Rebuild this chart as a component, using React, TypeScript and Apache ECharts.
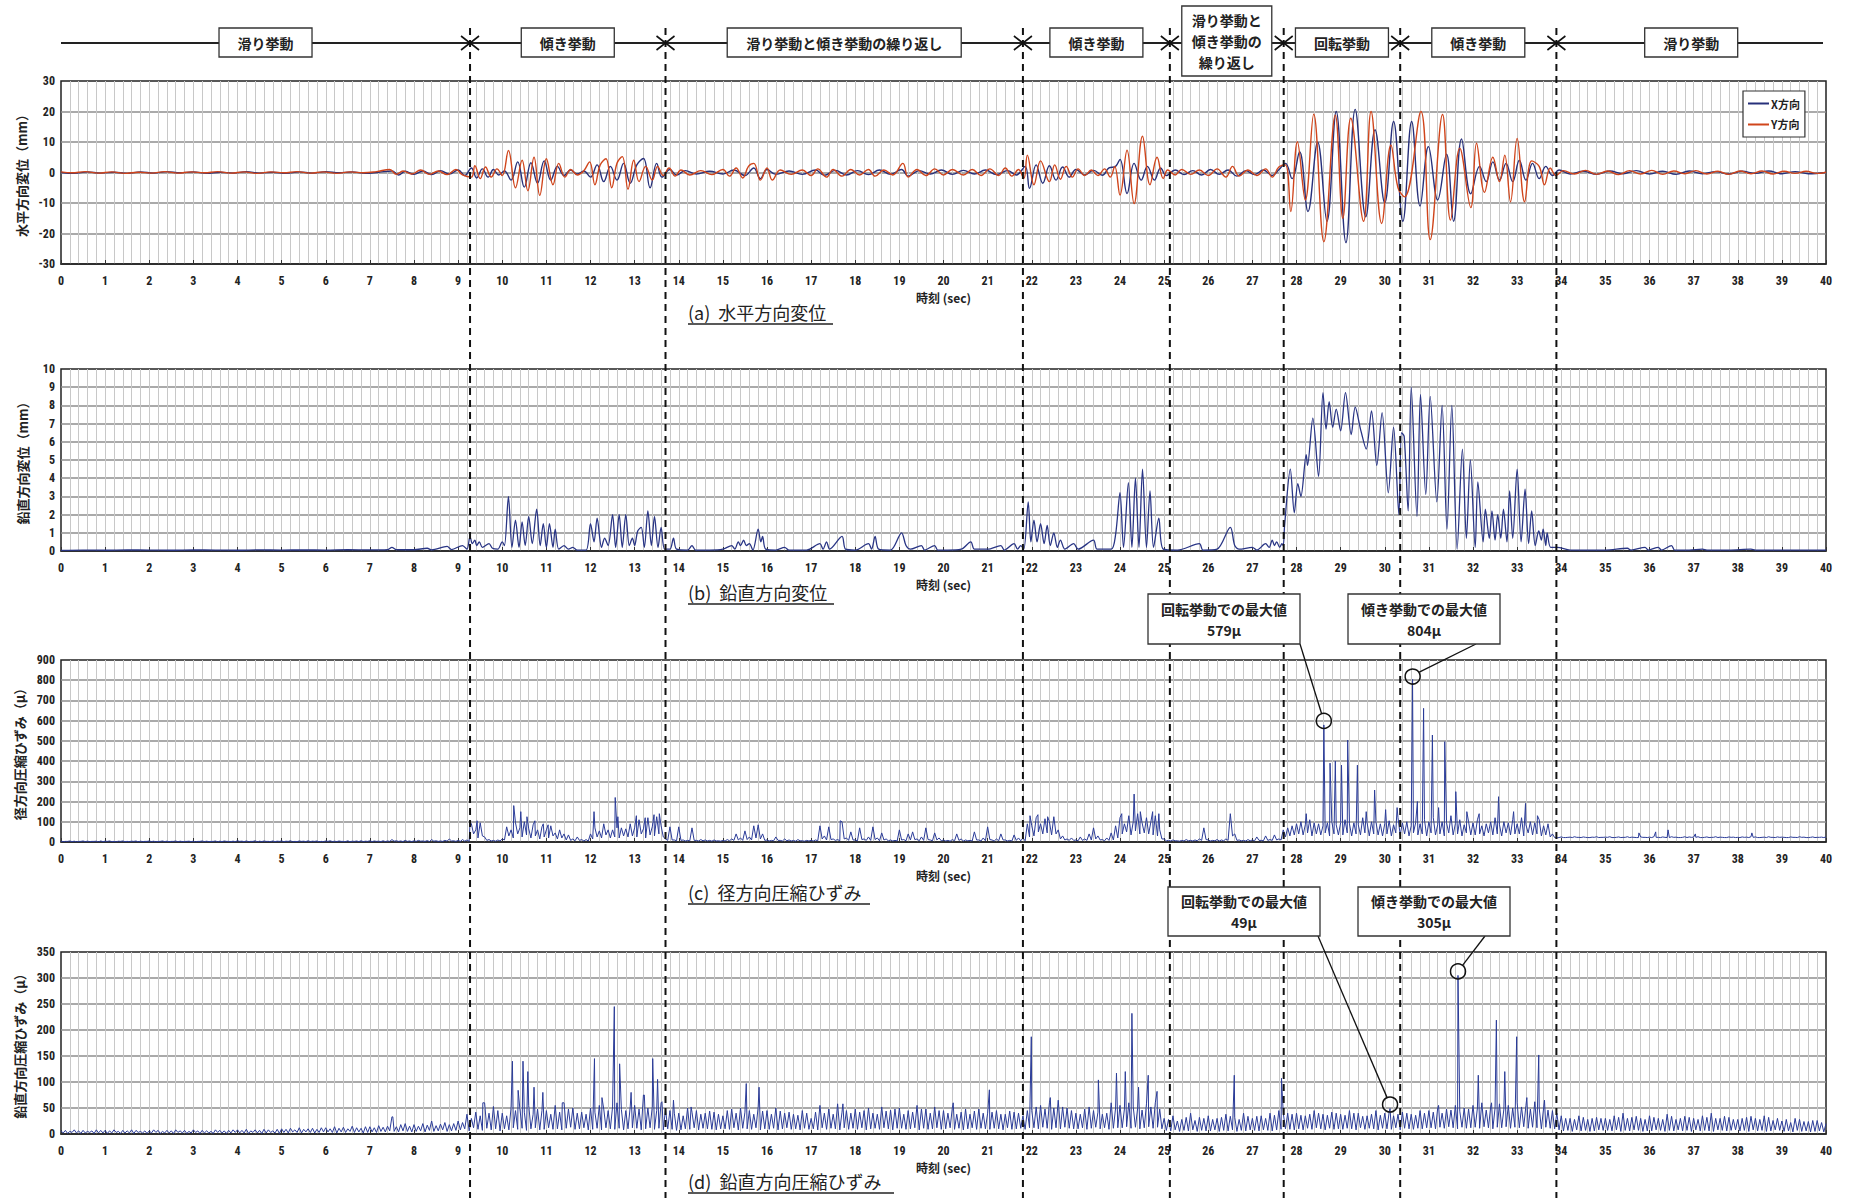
import React, { useEffect, useRef } from "react";
import * as echarts from "echarts";

// ---------- phases ----------
const phaseBounds = [9.27, 13.7, 21.8, 25.13, 27.71, 30.35, 33.89];
const phaseLabels = [
  "滑り挙動",
  "傾き挙動",
  "滑り挙動と傾き挙動の繰り返し",
  "傾き挙動",
  "滑り挙動と\n傾き挙動の\n繰り返し",
  "回転挙動",
  "傾き挙動",
  "滑り挙動",
];

// ---------- (a) horizontal displacement [t(sec), mm] ----------
const dispX: [number, number][] = [
  [0, 0], [0.3, -0.3], [0.6, 0.2], [0.9, -0.2], [1.2, 0.1], [1.5, -0.3], [1.8, 0.2], [2.1, -0.2], [2.4, 0.3], [2.7, -0.1],
  [3.0, 0.2], [3.3, -0.3], [3.6, 0.1], [3.9, -0.2], [4.2, 0.3], [4.5, -0.2], [4.8, 0.1], [5.1, -0.3], [5.4, 0.2], [5.7, -0.2],
  [6.0, 0.3], [6.3, -0.1], [6.6, 0.2], [6.9, -0.3], [7.2, 0.1],
  [7.5, 0.5], [7.65, -0.8], [7.8, 0.4], [8.0, -0.6], [8.2, 0.5], [8.4, -0.7], [8.6, 0.6], [8.8, -0.5], [9.0, 0.8], [9.15, -1.0],
  [9.3, 1.5], [9.42, -1.8], [9.55, 1.2], [9.68, -1.5], [9.8, 1.0], [9.92, -0.8], [10.05, 0.5],
  [10.2, -2.5], [10.35, 3.5], [10.5, -4.8], [10.65, 3.2], [10.8, -3.5], [10.95, 3.8], [11.1, -2.5], [11.25, 2.0], [11.4, -1.0],
  [11.55, 0.8], [11.7, -0.5], [11.85, 0.5],
  [12.0, -1.5], [12.15, 2.5], [12.3, -3.0], [12.45, 2.0], [12.6, -2.5], [12.75, 3.0], [12.9, -3.5], [13.05, 2.5], [13.2, 4.6],
  [13.35, -5.0], [13.5, 3.0], [13.62, -1.5],
  [13.8, 1.0], [13.95, -0.8], [14.15, 0.6], [14.4, -0.5], [14.7, 0.4], [15.0, -0.5], [15.25, 0.8], [15.5, -1.0], [15.7, 1.5],
  [15.85, -2.0], [16.0, 1.0], [16.2, -0.6], [16.5, 0.5], [16.8, -0.6], [17.1, 0.8], [17.3, -0.9], [17.55, 0.7], [17.8, -0.8],
  [18.05, 0.6], [18.3, -0.7], [18.55, 0.8], [18.8, -0.6], [19.05, 1.0], [19.2, -1.2], [19.45, 0.6], [19.7, -0.5], [19.95, 0.8],
  [20.2, -0.6], [20.45, 0.7], [20.7, -0.5], [20.95, 0.8], [21.2, -0.7], [21.45, 0.6], [21.65, -0.8],
  [21.85, 2.0], [21.95, -5.2], [22.1, 2.5], [22.25, -3.5], [22.4, 2.2], [22.55, -2.5], [22.7, 1.8], [22.85, -1.5], [23.0, 1.0],
  [23.2, -0.8], [23.4, 0.7], [23.6, -0.9], [23.75, 1.5],
  [23.9, 2.0], [24.0, 4.3], [24.16, -6.9], [24.32, 3.0], [24.48, -2.5], [24.62, 2.0], [24.78, -2.5], [24.92, 1.5], [25.05, -1.0],
  [25.25, 0.8], [25.45, -0.7], [25.65, 0.6], [25.85, -0.8], [26.05, 1.0], [26.25, -0.6], [26.45, 0.8], [26.65, -1.2], [26.85, 0.6],
  [27.05, -0.7], [27.25, 0.8], [27.45, -1.0], [27.6, 0.9],
  [27.75, 3.0], [27.9, -2.0], [28.07, 6.8], [28.26, -12.8], [28.48, 10], [28.69, -16], [28.9, 20], [29.12, -23], [29.33, 20.7],
  [29.57, -14.5], [29.78, 14], [30.0, -10], [30.2, 16.7], [30.41, -16], [30.61, 16.7], [30.8, -11], [30.99, 8.5], [31.2, -9],
  [31.4, 6], [31.56, -16], [31.74, 11], [31.95, -7], [32.15, 2], [32.3, -3], [32.45, 3.5], [32.6, -2.5], [32.75, 3], [32.9, -3],
  [33.05, 4], [33.2, -2.5], [33.35, 3], [33.5, -2], [33.65, 2], [33.8, -1],
  [33.95, 0.8], [34.2, -0.5], [34.5, 0.4], [34.8, -0.6], [35.1, 0.5], [35.4, -0.4], [35.7, 0.6], [36.0, -0.5], [36.3, 0.4],
  [36.6, -0.6], [36.9, 0.5], [37.2, -0.4], [37.5, 0.3], [37.8, -0.5], [38.1, 0.4], [38.4, -0.3], [38.7, 0.5], [39.0, -0.4],
  [39.3, 0.3], [39.6, -0.4], [40, 0],
];

const dispY: [number, number][] = [
  [0, 0.2], [0.25, -0.1], [0.55, 0.3], [0.85, -0.2], [1.15, 0.2], [1.45, -0.3], [1.75, 0.1], [2.05, -0.2], [2.35, 0.3], [2.65, -0.2],
  [2.95, 0.2], [3.25, -0.1], [3.55, 0.3], [3.85, -0.2], [4.15, 0.2], [4.45, -0.3], [4.75, 0.2], [5.05, -0.1], [5.35, 0.3],
  [5.65, -0.2], [5.95, 0.2], [6.25, -0.3], [6.55, 0.2], [6.85, -0.1], [7.15, 0.3],
  [7.45, 1.0], [7.6, -0.6], [7.75, 0.5], [7.95, -0.5], [8.15, 0.8], [8.35, -0.6], [8.55, 0.5], [8.75, -0.7], [8.95, 1.0], [9.1, -0.8],
  [9.3, -1.5], [9.38, 2.2], [9.5, -2.0], [9.62, 1.8], [9.75, -1.5], [9.88, 1.2], [10.0, -1.0],
  [10.14, 7.2], [10.3, -5.0], [10.45, 4.0], [10.58, -6.0], [10.72, 5.0], [10.85, -7.5], [11.0, 4.5], [11.15, -4.0], [11.28, 3.0],
  [11.42, -1.5], [11.55, 1.0], [11.7, -0.8], [11.85, 0.6],
  [11.98, 3.5], [12.1, -4.0], [12.22, 2.5], [12.35, 4.5], [12.48, -5.0], [12.6, 3.0], [12.72, 5.2], [12.85, -5.5], [12.98, 4.0],
  [13.1, -3.0], [13.25, 2.0], [13.4, -2.5], [13.52, 2.0], [13.65, -1.0],
  [13.78, 1.5], [13.92, -1.2], [14.05, 0.8], [14.25, -0.8], [14.5, 0.6], [14.75, -0.7], [15.0, 1.0], [15.15, -1.2], [15.3, 1.5],
  [15.45, -1.8], [15.58, 2.0], [15.7, 3.0], [15.85, -2.5], [16.0, 1.5], [16.12, -2.5], [16.3, 0.8], [16.55, -0.6], [16.8, 0.8],
  [17.0, -1.0], [17.15, 1.2], [17.35, -1.5], [17.5, 1.0], [17.7, -1.2], [17.9, 1.0], [18.1, -0.8], [18.3, 1.0], [18.45, -1.2],
  [18.65, 0.8], [18.85, -0.8], [19.08, 3.0], [19.2, -1.5], [19.4, 1.0], [19.6, -1.0], [19.8, 1.2], [20.0, -0.8], [20.2, 1.0],
  [20.45, -0.8], [20.65, 1.0], [20.85, -1.0], [21.05, 1.2], [21.25, -1.0], [21.4, 1.5], [21.55, -1.2], [21.7, 1.0],
  [21.82, -2.0], [21.9, 5.7], [22.05, -4.0], [22.2, 3.8], [22.4, -3.0], [22.52, 2.5], [22.65, -2.2], [22.78, 2.0], [22.92, -1.5],
  [23.05, 1.2], [23.2, -1.0], [23.35, 0.8], [23.5, -1.0], [23.65, 1.2], [23.78, -1.5],
  [23.88, 2.0], [24.0, -7.4], [24.16, 7.3], [24.32, -10.2], [24.51, 11.9], [24.68, -4.0], [24.84, 5.0], [24.98, -2.0], [25.08, 0.8],
  [25.25, -0.8], [25.4, 1.0], [25.6, -0.6], [25.8, 0.8], [26.0, -1.0], [26.2, 1.2], [26.4, -1.5], [26.55, 2.0], [26.7, -1.2],
  [26.9, 0.8], [27.1, -1.0], [27.3, 1.2], [27.45, -1.5], [27.6, 1.8],
  [27.75, 2.5], [27.87, -12.8], [28.02, 10.1], [28.2, -9], [28.39, 19.1], [28.62, -22.7], [28.88, 18.8], [29.05, -15],
  [29.23, 17.8], [29.52, -16], [29.69, 20], [29.93, -16.7], [30.14, 9], [30.3, -5], [30.45, -8], [30.82, 20], [31.03, -22],
  [31.31, 19], [31.49, -15.6], [31.7, 8], [31.95, -11.5], [32.08, 9.6], [32.26, -6.5], [32.45, 5], [32.6, -3], [32.72, 5.7],
  [32.85, -9.6], [33.0, 11.2], [33.17, -9.6], [33.33, 3.8], [33.5, 2], [33.62, -4], [33.75, 1.5], [33.88, -1],
  [34.05, 0.6], [34.3, -0.5], [34.55, 0.7], [34.8, -0.6], [35.05, 0.5], [35.3, -0.7], [35.55, 0.6], [35.8, -0.5], [36.05, 0.7],
  [36.3, -0.6], [36.55, 0.5], [36.8, -0.4], [37.05, 0.6], [37.3, -0.5], [37.55, 0.4], [37.8, -0.6], [38.05, 0.5], [38.3, -0.4],
  [38.55, 0.5], [38.8, -0.5], [39.05, 0.4], [39.3, -0.3], [39.55, 0.4], [39.8, -0.3], [40, 0.1],
];

// ---------- (b) vertical displacement [t, mm] ----------
const vertDisp: [number, number][] = [
  [0, 0.03], [0.5, 0.05], [1, 0.04], [1.5, 0.06], [2, 0.05], [2.5, 0.04], [3, 0.06], [3.5, 0.05], [4, 0.04], [4.5, 0.06],
  [5, 0.05], [5.5, 0.06], [6, 0.05], [6.5, 0.07], [7, 0.06], [7.4, 0.08], [7.5, 0.2], [7.6, 0.08], [8, 0.07], [8.3, 0.15],
  [8.4, 0.06], [8.75, 0.25], [8.85, 0.08], [9.1, 0.3], [9.2, 0.1],
  [9.27, 0.8], [9.32, 0.4], [9.38, 0.6], [9.42, 0.3], [9.48, 0.5], [9.55, 0.2], [9.7, 0.4], [9.78, 0.15], [9.9, 0.1], [10.0, 0.5],
  [10.05, 0.3], [10.14, 3.0], [10.22, 0.2], [10.3, 1.7], [10.38, 0.2], [10.45, 1.6], [10.52, 0.3], [10.6, 1.9], [10.68, 0.4],
  [10.78, 2.3], [10.86, 0.3], [10.93, 1.5], [11.0, 0.2], [11.07, 1.5], [11.15, 0.2], [11.2, 1.2], [11.28, 0.1], [11.4, 0.3],
  [11.5, 0.1], [11.6, 0.2], [11.7, 0.05], [11.9, 0.05],
  [12.0, 1.5], [12.08, 0.5], [12.15, 1.8], [12.25, 0.2], [12.32, 0.7], [12.4, 0.3], [12.5, 2.0], [12.57, 0.2], [12.65, 2.0],
  [12.72, 0.2], [12.8, 2.0], [12.88, 0.3], [12.95, 0.7], [13.0, 0.3], [13.07, 1.1], [13.15, 1.3], [13.22, 0.2], [13.3, 2.2],
  [13.38, 0.3], [13.45, 1.9], [13.53, 0.2], [13.6, 1.3], [13.68, 0.1],
  [13.8, 0.1], [13.88, 0.7], [13.95, 0.1], [14.2, 0.05], [14.3, 0.3], [14.38, 0.05], [14.7, 0.05], [15.0, 0.1], [15.2, 0.3],
  [15.27, 0.1], [15.35, 0.5], [15.4, 0.3], [15.47, 0.6], [15.53, 0.3], [15.6, 0.4], [15.68, 0.05], [15.8, 1.2], [15.86, 0.5],
  [15.9, 0.8], [15.97, 0.1], [16.2, 0.05], [16.4, 0.2], [16.5, 0.05], [16.9, 0.05], [17.2, 0.4], [17.27, 0.1], [17.35, 0.5],
  [17.42, 0.1], [17.7, 0.8], [17.78, 0.1], [18.0, 0.05], [18.3, 0.4], [18.37, 0.1], [18.45, 0.8], [18.53, 0.1], [18.8, 0.05],
  [19.05, 1.0], [19.15, 0.3], [19.25, 0.1], [19.5, 0.3], [19.57, 0.05], [19.8, 0.3], [19.87, 0.05], [20.1, 0.05], [20.4, 0.1],
  [20.62, 0.5], [20.7, 0.1], [21.0, 0.1], [21.3, 0.3], [21.38, 0.05], [21.6, 0.4], [21.68, 0.1], [21.75, 0.3], [21.82, 0.1],
  [21.92, 2.7], [21.98, 0.5], [22.05, 1.7], [22.12, 0.5], [22.2, 1.5], [22.28, 0.4], [22.35, 1.4], [22.42, 0.3], [22.5, 1.0],
  [22.58, 0.2], [22.65, 0.6], [22.75, 0.1], [22.95, 0.4], [23.05, 0.1], [23.4, 0.6], [23.48, 0.1], [23.8, 0.1], [23.9, 0.9],
  [24.0, 3.2], [24.08, 0.2], [24.19, 3.75], [24.27, 0.2], [24.35, 4.0], [24.43, 0.2], [24.51, 4.5], [24.6, 0.2], [24.68, 3.3],
  [24.76, 0.2], [24.88, 1.8], [24.98, 0.1], [25.3, 0.05], [25.8, 0.4], [25.88, 0.05], [26.2, 0.1], [26.5, 1.3], [26.6, 0.3],
  [26.7, 0.1], [27.0, 0.2], [27.1, 0.05], [27.3, 0.4], [27.38, 0.2], [27.45, 0.6], [27.5, 0.3], [27.55, 0.5], [27.62, 0.2],
  [27.67, 0.4], [27.7, 0.3],
  [27.73, 1.4], [27.86, 4.5], [27.95, 2.1], [28.03, 3.7], [28.1, 3.0], [28.22, 5.3], [28.25, 4.7], [28.37, 7.3], [28.5, 4.1],
  [28.6, 8.7], [28.67, 6.7], [28.74, 8.2], [28.82, 6.8], [28.9, 7.8], [29.0, 6.6], [29.11, 8.7], [29.24, 6.4], [29.33, 7.9],
  [29.46, 6.6], [29.58, 5.6], [29.7, 7.7], [29.82, 4.7], [29.94, 7.6], [30.08, 3.2], [30.2, 6.8], [30.32, 2.0], [30.38, 6.5],
  [30.44, 6.3], [30.53, 2.2], [30.6, 9.0], [30.73, 1.9], [30.81, 8.6], [30.93, 3.1], [31.03, 8.5], [31.18, 2.7], [31.3, 8.0],
  [31.41, 1.2], [31.52, 8.0], [31.64, 0.1], [31.76, 5.6], [31.85, 0.7], [31.94, 5.0], [32.05, 0.2], [32.11, 3.8], [32.23, 0.5],
  [32.28, 2.3], [32.37, 0.7], [32.43, 2.2], [32.5, 0.6], [32.56, 2.0], [32.63, 0.7], [32.69, 2.3], [32.77, 0.5], [32.83, 3.3],
  [32.9, 0.7], [33.0, 4.5], [33.09, 0.5], [33.18, 3.4], [33.26, 0.4], [33.33, 2.2], [33.41, 0.3], [33.49, 1.1], [33.55, 0.6],
  [33.59, 1.2], [33.65, 0.3], [33.68, 1.0], [33.76, 0.2], [33.91, 0.2],
  [34.2, 0.05], [34.6, 0.05], [35.0, 0.05], [35.5, 0.15], [35.58, 0.05], [35.9, 0.2], [35.97, 0.05], [36.2, 0.2], [36.27, 0.05],
  [36.5, 0.3], [36.57, 0.05], [36.9, 0.05], [37.2, 0.1], [37.3, 0.05], [37.8, 0.05], [38.3, 0.1], [38.4, 0.05], [39.0, 0.05],
  [39.5, 0.05], [40, 0.05],
];

// ---------- (c) radial compressive strain (μ) ----------
// upper samples at t = 0.0, 0.1, ... 40.0
const radialHi: number[] = [
  4, 3, 5, 4, 3, 5, 4, 3, 4, 5,
  4, 5, 3, 4, 5, 3, 4, 5, 4, 3,
  5, 4, 3, 5, 4, 3, 5, 4, 3, 4,
  4, 3, 5, 4, 3, 5, 4, 5, 3, 4,
  6, 4, 5, 3, 6, 4, 5, 3, 5, 4,
  5, 4, 6, 3, 5, 4, 6, 4, 5, 3,
  5, 6, 4, 5, 3, 6, 4, 5, 6, 4,
  6, 5, 4, 6, 5, 12, 6, 5, 8, 5,
  6, 8, 5, 7, 12, 6, 5, 8, 15, 6,
  8, 12, 10, 90, 60, 95, 25, 12, 8, 10,
  15, 75, 60, 95, 70, 100, 65, 85, 60, 75,
  60, 80, 45, 60, 40, 35, 15, 25, 12, 12,
  40, 70, 55, 90, 60, 60, 70, 70, 65, 90,
  70, 110, 65, 120, 75, 125, 80, 15, 75, 10,
  75, 10, 8, 70, 8, 12, 10, 8, 10, 6,
  8, 12, 15, 40, 20, 55, 25, 80, 85, 40,
  10, 8, 25, 8, 15, 10, 8, 12, 6, 8,
  8, 10, 80, 30, 75, 15, 12, 100, 20, 50,
  10, 70, 15, 25, 75, 20, 45, 15, 10, 8,
  60, 12, 40, 50, 15, 25, 70, 10, 45, 20,
  10, 8, 12, 40, 15, 10, 8, 50, 10, 20,
  75, 10, 15, 40, 10, 8, 35, 20, 20, 90,
  80, 120, 90, 115, 100, 125, 60, 30, 15, 20,
  10, 25, 15, 40, 70, 30, 12, 20, 45, 80,
  120, 90, 130, 100, 140, 95, 120, 100, 130, 60,
  15, 8, 10, 6, 8, 12, 8, 10, 15, 70,
  10, 8, 12, 10, 15, 140, 40, 10, 8, 12,
  10, 25, 8, 30, 12, 35, 15, 60, 70, 80,
  90, 100, 85, 110, 95, 90, 80, 95, 100, 85,
  95, 110, 90, 95, 85, 120, 95, 100, 100, 90,
  90, 105, 85, 120, 95, 100, 80, 95, 90, 110,
  100, 120, 85, 100, 95, 130, 90, 110, 85, 100,
  95, 110, 80, 90, 100, 120, 85, 100, 95, 110,
  90, 120, 85, 100, 95, 110, 80, 90, 40, 20,
  25, 22, 24, 26, 23, 25, 22, 24, 26, 23,
  24, 26, 22, 25, 23, 26, 24, 22, 25, 23,
  24, 26, 23, 25, 22, 26, 24, 22, 26, 25,
  24, 26, 22, 25, 23, 26, 24, 22, 25, 24,
  23, 25, 24, 26, 25, 22, 24, 26, 23, 25,
  24, 22, 25, 23, 26, 24, 22, 25, 23, 24,
  25,
];
// lower samples at t = 0.05, 0.15, ... 39.95
const radialLo: number[] = [
  2, 3, 2, 1, 3, 2, 2, 3, 1, 2,
  3, 2, 1, 3, 2, 2, 3, 1, 2, 3,
  2, 1, 3, 2, 2, 3, 1, 2, 3, 2,
  1, 3, 2, 2, 3, 1, 2, 3, 2, 2,
  3, 2, 2, 3, 1, 2, 3, 2, 2, 3,
  2, 3, 1, 2, 3, 2, 2, 3, 1, 2,
  3, 2, 2, 3, 2, 1, 3, 2, 2, 3,
  2, 3, 2, 2, 3, 4, 3, 2, 3, 2,
  3, 4, 3, 2, 4, 3, 3, 4, 5, 3,
  3, 4, 3, 40, 20, 30, 8, 5, 4, 5,
  10, 30, 20, 40, 25, 35, 20, 30, 15, 25,
  20, 30, 15, 20, 10, 8, 6, 8, 5, 5,
  15, 25, 20, 35, 20, 25, 20, 30, 25, 30,
  25, 40, 20, 35, 30, 40, 25, 8, 10, 6,
  8, 5, 6, 8, 5, 6, 5, 4, 5, 4,
  5, 6, 8, 10, 8, 12, 10, 20, 15, 8,
  5, 6, 8, 5, 6, 5, 4, 6, 4, 5,
  5, 6, 15, 10, 12, 8, 6, 15, 8, 10,
  6, 12, 8, 8, 12, 6, 10, 6, 5, 5,
  10, 6, 10, 12, 6, 8, 12, 6, 10, 6,
  5, 4, 6, 8, 5, 6, 5, 10, 5, 6,
  12, 5, 6, 10, 5, 5, 8, 6, 6, 25,
  30, 50, 40, 45, 35, 40, 15, 10, 8, 8,
  6, 8, 8, 10, 15, 10, 6, 8, 10, 20,
  40, 50, 35, 55, 40, 45, 40, 35, 30, 15,
  6, 5, 6, 4, 5, 6, 5, 6, 8, 12,
  5, 6, 5, 6, 8, 30, 8, 6, 5, 6,
  6, 8, 6, 8, 8, 10, 10, 25, 30, 35,
  40, 35, 45, 30, 40, 35, 45, 30, 40, 35,
  35, 45, 30, 40, 35, 45, 30, 40, 35, 30,
  40, 30, 45, 35, 40, 30, 45, 35, 40, 30,
  45, 35, 40, 30, 45, 35, 40, 30, 45, 35,
  35, 40, 30, 45, 35, 40, 30, 45, 35, 40,
  40, 30, 45, 35, 40, 30, 35, 25, 22, 22,
  22, 23, 22, 23, 22, 23, 22, 23, 22, 23,
  23, 22, 23, 22, 23, 22, 23, 22, 23, 22,
  22, 23, 22, 23, 22, 23, 22, 23, 22, 23,
  23, 22, 23, 22, 23, 22, 23, 22, 23, 22,
  22, 23, 22, 23, 22, 23, 22, 23, 22, 23,
  23, 22, 23, 22, 23, 22, 23, 22, 23, 22,
];
const radialSpikes: [number, number][] = [
  [9.27, 100], [9.43, 105], [10.26, 180], [10.42, 150], [10.56, 125], [10.74, 105], [10.93, 90], [11.04, 85],
  [12.08, 150], [12.56, 220], [12.62, 125], [13.04, 130], [13.24, 120], [13.44, 135], [13.56, 140], [17.66, 105],
  [21.96, 130], [22.14, 135], [22.36, 125], [24.04, 140], [24.32, 237], [24.46, 150], [24.74, 150], [24.88, 140],
  [28.22, 140], [28.62, 579], [28.76, 390], [28.88, 400], [29.02, 380], [29.16, 504], [29.38, 380], [29.58, 150],
  [29.77, 257], [30.02, 160], [30.28, 170], [30.63, 804], [30.74, 200], [30.88, 661], [31.08, 529], [31.22, 170],
  [31.36, 496], [31.61, 249], [31.86, 150], [32.14, 140], [32.58, 224], [32.92, 150], [33.19, 191], [33.46, 130],
  [35.76, 45], [36.14, 50], [36.42, 60], [37.04, 40], [38.32, 45],
];

// ---------- (d) vertical compressive strain (μ) ----------
const vertStrainHi: number[] = [
  6, 7, 5, 8, 6, 7, 5, 6, 8, 7,
  7, 6, 8, 5, 7, 6, 8, 7, 5, 6,
  6, 8, 7, 5, 7, 6, 8, 6, 7, 5,
  8, 6, 7, 6, 5, 8, 7, 6, 7, 8,
  8, 7, 9, 6, 8, 7, 9, 8, 6, 9,
  10, 9, 11, 8, 12, 9, 10, 11, 9, 12,
  12, 10, 14, 11, 13, 10, 15, 12, 11, 14,
  14, 12, 16, 13, 15, 33, 14, 18, 20, 15,
  18, 15, 20, 17, 25, 16, 19, 22, 18, 20,
  25, 22, 38, 30, 42, 35, 60, 40, 53, 45,
  40, 35, 50, 45, 48, 42, 55, 38, 48, 45,
  45, 38, 55, 42, 60, 48, 50, 40, 42, 38,
  50, 42, 55, 48, 45, 52, 60, 47, 45, 52,
  55, 48, 75, 50, 52, 45, 60, 48, 45, 40,
  40, 35, 50, 42, 45, 38, 40, 44, 42, 38,
  35, 45, 48, 40, 50, 42, 45, 38, 52, 44,
  45, 38, 50, 44, 40, 42, 38, 36, 45, 40,
  30, 42, 55, 40, 48, 38, 58, 42, 45, 40,
  48, 42, 45, 50, 40, 38, 52, 44, 46, 48,
  50, 38, 45, 42, 55, 48, 48, 40, 52, 45,
  45, 40, 50, 38, 42, 48, 38, 44, 48, 40,
  40, 42, 45, 38, 38, 44, 42, 40, 35, 45,
  45, 52, 55, 48, 60, 50, 65, 52, 50, 45,
  40, 38, 48, 52, 45, 42, 38, 40, 60, 50,
  55, 48, 60, 52, 50, 46, 58, 52, 60, 48,
  30, 28, 35, 25, 28, 32, 40, 26, 32, 30,
  35, 28, 30, 32, 38, 34, 32, 28, 40, 34,
  30, 34, 35, 30, 40, 36, 45, 40, 40, 38,
  40, 36, 35, 38, 45, 40, 38, 36, 42, 40,
  38, 36, 45, 40, 40, 34, 35, 38, 45, 36,
  40, 42, 35, 38, 42, 40, 38, 36, 45, 40,
  45, 42, 50, 40, 48, 46, 55, 44, 50, 48,
  55, 50, 60, 46, 52, 50, 58, 48, 55, 50,
  60, 52, 55, 48, 62, 50, 50, 46, 45, 40,
  35, 30, 30, 28, 35, 32, 28, 30, 32, 30,
  30, 28, 35, 32, 40, 30, 32, 34, 30, 28,
  35, 32, 30, 28, 38, 34, 28, 30, 34, 32,
  30, 28, 35, 32, 40, 30, 30, 34, 32, 28,
  28, 30, 32, 34, 30, 28, 35, 32, 26, 30,
  25, 28, 22, 30, 28, 24, 24, 26, 26, 22,
  20,
];
const vertStrainLo: number[] = [
  2, 1, 3, 2, 1, 2, 3, 1, 2, 2,
  1, 2, 3, 1, 2, 2, 1, 3, 2, 1,
  2, 3, 1, 2, 2, 1, 3, 2, 1, 2,
  3, 1, 2, 2, 1, 3, 2, 1, 2, 3,
  2, 2, 1, 3, 2, 1, 2, 3, 2, 1,
  3, 2, 4, 3, 2, 4, 3, 2, 3, 4,
  4, 3, 2, 4, 3, 5, 3, 4, 2, 3,
  4, 3, 5, 4, 6, 5, 4, 6, 5, 4,
  5, 6, 4, 7, 5, 6, 8, 5, 6, 7,
  8, 10, 6, 12, 9, 7, 11, 8, 10, 6,
  10, 8, 12, 9, 11, 7, 10, 12, 8, 9,
  12, 9, 10, 8, 11, 13, 9, 10, 12, 8,
  9, 11, 8, 12, 10, 9, 11, 8, 10, 12,
  11, 8, 10, 12, 9, 11, 8, 10, 9, 7,
  8, 10, 9, 12, 8, 11, 10, 9, 8, 10,
  10, 9, 12, 8, 11, 10, 9, 12, 8, 10,
  9, 11, 8, 10, 12, 9, 10, 8, 11, 9,
  10, 8, 12, 9, 11, 10, 8, 12, 9, 11,
  9, 12, 8, 10, 11, 9, 12, 10, 8, 11,
  11, 9, 10, 12, 8, 11, 9, 10, 12, 9,
  10, 12, 9, 11, 8, 10, 12, 9, 11, 10,
  9, 11, 10, 8, 12, 9, 10, 11, 9, 12,
  12, 10, 13, 11, 9, 12, 10, 13, 11, 10,
  10, 12, 9, 11, 13, 10, 12, 9, 11, 12,
  12, 14, 11, 13, 10, 12, 14, 11, 13, 10,
  7, 6, 8, 5, 7, 6, 8, 5, 7, 6,
  6, 8, 5, 7, 6, 8, 5, 7, 6, 8,
  7, 6, 8, 7, 6, 8, 9, 10, 9, 8,
  10, 8, 11, 9, 12, 10, 8, 11, 9, 10,
  9, 11, 10, 8, 12, 9, 11, 10, 8, 11,
  10, 9, 12, 8, 11, 10, 9, 11, 10, 12,
  12, 10, 13, 11, 14, 12, 10, 13, 11, 12,
  13, 11, 14, 12, 10, 13, 12, 14, 11, 13,
  12, 14, 11, 13, 12, 10, 13, 11, 10, 8,
  6, 7, 5, 8, 6, 7, 5, 6, 8, 7,
  7, 6, 8, 5, 7, 6, 8, 7, 5, 6,
  6, 8, 7, 5, 7, 6, 8, 6, 7, 5,
  8, 6, 7, 6, 5, 8, 7, 6, 7, 8,
  6, 7, 5, 8, 6, 7, 5, 6, 8, 7,
  5, 6, 4, 7, 5, 6, 4, 5, 6, 4,
];
const vertStrainSpikes: [number, number][] = [
  [7.52, 33], [9.56, 60], [10.23, 140], [10.36, 84], [10.47, 140], [10.58, 120], [10.72, 90], [10.92, 80], [11.36, 60],
  [12.09, 145], [12.26, 70], [12.54, 245], [12.66, 135], [12.92, 80], [13.22, 75], [13.41, 145], [13.52, 105], [13.62, 62],
  [13.88, 65], [14.28, 52], [15.53, 97], [15.82, 90], [17.72, 58], [20.22, 60], [21.04, 85], [21.99, 187], [22.42, 70],
  [23.51, 104], [23.92, 117], [24.12, 120], [24.27, 232], [24.42, 90], [24.64, 113], [24.84, 82], [26.59, 113], [27.66, 107],
  [30.12, 49], [31.22, 55], [31.66, 305], [32.12, 113], [32.42, 60], [32.53, 219], [32.72, 120], [32.99, 187], [33.22, 70],
  [33.49, 152], [33.62, 65],
];

// ---------- annotations ----------
const radialMaxRot: [number, number] = [28.62, 579];
const radialMaxTilt: [number, number] = [30.63, 804];
const vertMaxRot: [number, number] = [30.12, 49];
const vertMaxTilt: [number, number] = [31.66, 305];

const JP = "'Noto Sans CJK JP', 'Noto Sans', sans-serif";
const NUM = "'Liberation Sans Narrow', 'Roboto Condensed', 'Liberation Sans', sans-serif";

function merge(hi: number[], lo: number[], spikes: [number, number][]): [number, number][] {
  const pts: [number, number][] = hi.map((v, i) => [i / 10, v]);
  lo.forEach((v, i) => pts.push([i / 10 + 0.05, v]));
  return pts.concat(spikes).sort((a, b) => a[0] - b[0]);
}

const GL = 61;
const GW = 1765;
const gridTops = [81, 369, 660, 952];
const gridHeights = [183, 182, 182, 182];
const yCfg = [
  { min: -30, max: 30, interval: 10, name: "水平方向変位（mm）" },
  { min: 0, max: 10, interval: 1, name: "鉛直方向変位（mm）" },
  { min: 0, max: 900, interval: 100, name: "径方向圧縮ひずみ（μ）" },
  { min: 0, max: 350, interval: 50, name: "鉛直方向圧縮ひずみ（μ）" },
];

function buildOption() {
  const lbl = { fontFamily: NUM, fontSize: 12, fontWeight: "bold", color: "#222" };
  const grid = gridTops.map((t, i) => ({
    left: GL, width: GW, top: t, height: gridHeights[i],
    show: true, borderColor: "#222", borderWidth: 1.5, backgroundColor: "transparent",
  }));
  const xAxis = gridTops.map((_, i) => ({
    gridIndex: i, type: "value", min: 0, max: 40, interval: 1,
    name: "時刻 (sec)", nameLocation: "middle", nameGap: 27,
    nameTextStyle: { fontFamily: JP, fontSize: 12, fontWeight: "bold", color: "#222" },
    axisLine: { show: true, onZero: false, lineStyle: { color: "#222", width: 1.5 } },
    axisTick: { show: true, inside: true, length: 4, lineStyle: { color: "#333" } },
    axisLabel: { ...lbl, margin: 11 },
    splitLine: { show: true, showMinLine: false, showMaxLine: false, lineStyle: { color: "#c8c8c8", width: 1 } },
    minorTick: { show: false, splitNumber: 5 },
    minorSplitLine: { show: true, lineStyle: { color: "#c8c8c8", width: 1 } },
  }));
  const yAxis = yCfg.map((c, i) => ({
    gridIndex: i, type: "value", min: c.min, max: c.max, interval: c.interval,
    name: c.name, nameLocation: "middle", nameGap: 32, nameRotate: 90,
    nameTextStyle: { fontFamily: JP, fontSize: 13, fontWeight: "bold", color: "#222" },
    axisLine: { show: false }, axisTick: { show: false },
    axisLabel: { ...lbl, margin: 6 },
    splitLine: { show: true, showMinLine: false, showMaxLine: false, lineStyle: { color: "#8e8e8e", width: 1.6 } },
  }));
  const blue = "#2b3c98";
  return {
    animation: false,
    backgroundColor: "#ffffff",
    grid, xAxis, yAxis,
    legend: {
      data: ["X方向", "Y方向"], orient: "vertical", left: 1743, top: 91,
      padding: [7, 5, 7, 5], itemGap: 10, itemWidth: 21, itemHeight: 2, icon: "rect",
      borderColor: "#333", borderWidth: 1.2, backgroundColor: "#fff",
      textStyle: { fontFamily: JP, fontSize: 11, fontWeight: "bold", color: "#222", padding: [0, 0, 0, -3] },
    },
    series: [
      { name: "X方向", type: "line", xAxisIndex: 0, yAxisIndex: 0, data: dispX, symbol: "none", showSymbol: false,
        smooth: 0.4, lineStyle: { color: "#27307a", width: 1.4 }, itemStyle: { color: "#27307a" } },
      { name: "Y方向", type: "line", xAxisIndex: 0, yAxisIndex: 0, data: dispY, symbol: "none", showSymbol: false,
        smooth: 0.4, lineStyle: { color: "#d0451b", width: 1.4 }, itemStyle: { color: "#d0451b" } },
      { name: "鉛直方向変位", type: "line", xAxisIndex: 1, yAxisIndex: 1, data: vertDisp, symbol: "none", showSymbol: false,
        smooth: 0.3, lineStyle: { color: "#293585", width: 1.3 } },
      { name: "径方向圧縮ひずみ", type: "line", xAxisIndex: 2, yAxisIndex: 2, data: merge(radialHi, radialLo, radialSpikes),
        symbol: "none", showSymbol: false, lineStyle: { color: blue, width: 1 } },
      { name: "鉛直方向圧縮ひずみ", type: "line", xAxisIndex: 3, yAxisIndex: 3, data: merge(vertStrainHi, vertStrainLo, vertStrainSpikes),
        symbol: "none", showSymbol: false, lineStyle: { color: blue, width: 1 } },
    ],
  };
}

function buildGraphics(chart: any) {
  const px = (g: number, t: number, v: number) => chart.convertToPixel({ gridIndex: g }, [t, v]) as number[];
  const els: any[] = [];
  const rowY = 43;
  const x0 = px(0, 0, 0)[0];
  const x40 = px(0, 40, 0)[0];
  els.push({ type: "line", z: 60, shape: { x1: x0, y1: rowY, x2: x40 - 3, y2: rowY }, style: { stroke: "#222", lineWidth: 2 } });
  phaseBounds.forEach((b) => {
    const x = px(0, b, 0)[0];
    els.push({ type: "line", z: 100, shape: { x1: x, y1: 28, x2: x, y2: 1198 }, style: { stroke: "#111", lineWidth: 2, lineDash: [7, 5] } });
    els.push({ type: "polyline", z: 100, shape: { points: [[x - 9, rowY - 7], [x, rowY], [x - 9, rowY + 7]] }, style: { stroke: "#111", lineWidth: 1.6, fill: null } });
    els.push({ type: "polyline", z: 100, shape: { points: [[x + 9, rowY - 7], [x, rowY], [x + 9, rowY + 7]] }, style: { stroke: "#111", lineWidth: 1.6, fill: null } });
  });
  const segs = [0, ...phaseBounds, 40];
  const boxW = [93, 93, 234, 93, 90, 93, 93, 93];
  const boxTop = [28, 28, 28, 28, 6, 28, 28, 28];
  const boxH = [29, 29, 29, 29, 70, 29, 29, 29];
  phaseLabels.forEach((lab, i) => {
    const cx = (px(0, segs[i], 0)[0] + px(0, segs[i + 1], 0)[0]) / 2;
    els.push({ type: "rect", z: 110, shape: { x: cx - boxW[i] / 2, y: boxTop[i], width: boxW[i], height: boxH[i] }, style: { fill: "#fff", stroke: "#333", lineWidth: 1.3 } });
    els.push({ type: "text", z: 111, style: { text: lab, x: cx, y: boxTop[i] + boxH[i] / 2, align: "center", verticalAlign: "middle",
      fontFamily: JP, fontSize: 14, fontWeight: "bold", lineHeight: 21, fill: "#222" } });
  });
  // captions
  const caps = [
    { t: "(a)  水平方向変位", y: 312, w: 145 },
    { t: "(b)  鉛直方向変位", y: 592, w: 146 },
    { t: "(c)  径方向圧縮ひずみ", y: 892, w: 182 },
    { t: "(d)  鉛直方向圧縮ひずみ", y: 1181, w: 206 },
  ];
  caps.forEach((c) => {
    els.push({ type: "text", z: 90, style: { text: c.t, x: 688, y: c.y, align: "left", verticalAlign: "middle", fontFamily: JP, fontSize: 18, fill: "#222" } });
    els.push({ type: "line", z: 90, shape: { x1: 688, y1: c.y + 12, x2: 688 + c.w, y2: c.y + 12 }, style: { stroke: "#222", lineWidth: 1.3 } });
  });
  // annotations
  const ann = [
    { g: 2, p: radialMaxRot, box: [1148, 594, 152, 50], from: [1300, 644], txt: "回転挙動での最大値\n579μ" },
    { g: 2, p: radialMaxTilt, box: [1348, 594, 152, 50], from: [1476, 644], txt: "傾き挙動での最大値\n804μ" },
    { g: 3, p: vertMaxRot, box: [1168, 887, 152, 49], from: [1318, 936], txt: "回転挙動での最大値\n49μ" },
    { g: 3, p: vertMaxTilt, box: [1358, 887, 152, 49], from: [1485, 936], txt: "傾き挙動での最大値\n305μ" },
  ];
  const r = 7.5;
  ann.forEach((a) => {
    const c = px(a.g, a.p[0], a.p[1]);
    const cx = c[0], cy = c[1] - 4;
    const dx = a.from[0] - cx, dy = a.from[1] - cy;
    const d = Math.sqrt(dx * dx + dy * dy);
    els.push({ type: "circle", z: 120, shape: { cx, cy, r }, style: { fill: null, stroke: "#111", lineWidth: 1.5 } });
    els.push({ type: "line", z: 120, shape: { x1: a.from[0], y1: a.from[1], x2: cx + (dx / d) * r, y2: cy + (dy / d) * r }, style: { stroke: "#111", lineWidth: 1.3 } });
    const [bx, by, bw, bh] = a.box;
    els.push({ type: "rect", z: 121, shape: { x: bx, y: by, width: bw, height: bh }, style: { fill: "#fff", stroke: "#333", lineWidth: 1.3 } });
    els.push({ type: "text", z: 122, style: { text: a.txt, x: bx + bw / 2, y: by + bh / 2, align: "center", verticalAlign: "middle",
      fontFamily: JP, fontSize: 14, fontWeight: "bold", lineHeight: 21, fill: "#222" } });
  });
  return els;
}

export default function App() {
  const ref = useRef<HTMLDivElement>(null);
  useEffect(() => {
    const chart = echarts.init(ref.current as HTMLDivElement, null, { renderer: "svg" });
    chart.setOption(buildOption() as any);
    chart.setOption({ graphic: buildGraphics(chart) } as any);
    return () => chart.dispose();
  }, []);
  return (
    <div
      ref={ref}
      style={{ position: "fixed", left: 0, top: 0, width: 1853, height: 1198, background: "#fff" }}
    />
  );
}
